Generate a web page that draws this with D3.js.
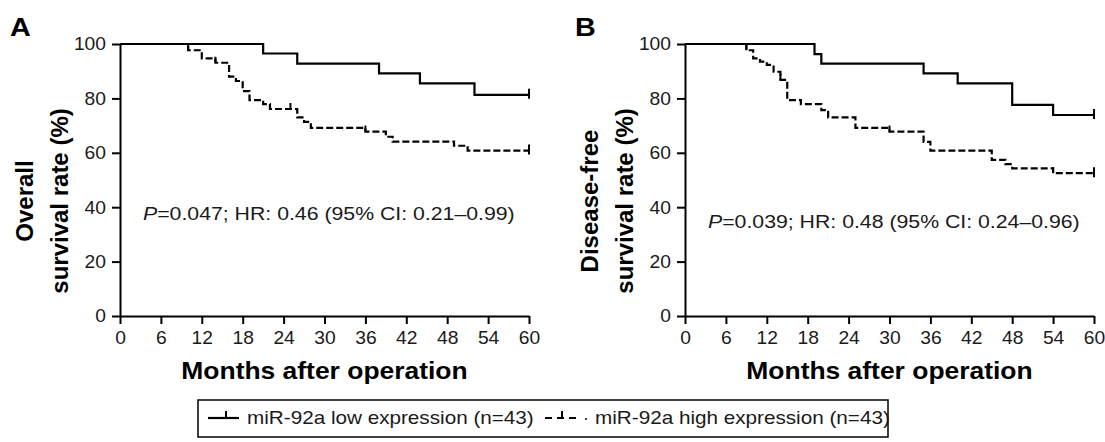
<!DOCTYPE html>
<html>
<head>
<meta charset="utf-8">
<script src="https://cdn.jsdelivr.net/npm/d3@7"></script>
<style>
  body { margin: 0; background: #fff; }
  svg { font-family: "Liberation Sans", Arial, sans-serif; }
</style>
</head>
<body>
<svg width="1105" height="442"></svg>
<script>
// tick values
const xTicks = [0, 6, 12, 18, 24, 30, 36, 42, 48, 54, 60];
const yTicks = [0, 20, 40, 60, 80, 100];

// A: overall survival
const osLowMonths = [0, 21, 26, 38, 44, 52, 60];
const osLowRate = [100, 96.5, 92.8, 89.2, 85.5, 81.3, 81.3];
const osLowCensor = [60];
const osHighMonths = [0, 10, 12, 14, 16, 17, 18, 19, 21, 22, 26, 27, 28, 36, 39, 40, 49, 51, 60];
const osHighRate = [100, 97.7, 94.7, 93.1, 88.0, 86.4, 82.7, 79.4, 77.9, 76.1, 73.0, 71.4, 69.2, 67.8, 65.9, 64.1, 62.6, 60.8, 60.8];
const osHighCensor = [10, 14, 25, 36, 60];

// B: disease-free survival
const dfsLowMonths = [0, 19, 20, 35, 40, 48, 54, 60];
const dfsLowRate = [100, 96.3, 92.8, 89.2, 85.5, 77.6, 73.9, 73.9];
const dfsLowCensor = [60];
const dfsHighMonths = [0, 9, 10, 11, 12, 13, 14, 15, 17, 20, 21, 25, 30, 35, 36, 45, 47, 48, 54, 60];
const dfsHighRate = [100, 97.7, 94.7, 93.5, 92.3, 89.8, 86.8, 79.4, 77.9, 75.7, 73.0, 69.2, 67.8, 64.0, 60.8, 57.4, 55.8, 54.3, 52.5, 52.5];
const dfsHighCensor = [9, 14, 30, 54, 60];

const legendLabels = ["miR-92a low expression (n=43)", "miR-92a high expression (n=43)"];

const svg = d3.select("svg");
const SX = 1.15; // text in the figure is a bit wider than plain Arial

function stretch(sel, sx) {
  sel.each(function() {
    const t = d3.select(this);
    const x = +t.attr("x") || 0;
    const y = +t.attr("y") || 0;
    t.attr("x", 0).attr("y", 0)
      .attr("transform", `translate(${x},${y}) scale(${sx},1)`);
  });
}

function panel(opt) {
  const x = d3.scaleLinear().domain([0, 60]).range([opt.left, opt.left + 409]);
  const y = d3.scaleLinear().domain([0, 100]).range([316, 44]);
  const g = svg.append("g");

  const xAxis = g.append("g")
    .attr("transform", "translate(0,316)")
    .call(d3.axisBottom(x).tickValues(xTicks).tickSize(8).tickPadding(8).tickSizeOuter(0));
  const yAxis = g.append("g")
    .attr("transform", `translate(${opt.left},0)`)
    .call(d3.axisLeft(y).tickValues(yTicks).tickSize(8).tickPadding(6).tickSizeOuter(0));
  [xAxis, yAxis].forEach(a => {
    a.select(".domain").attr("stroke", "#000").attr("stroke-width", 2);
    a.selectAll(".tick line").attr("stroke", "#000").attr("stroke-width", 2);
    a.selectAll(".tick text").attr("fill", "#1a1a1a").attr("font-size", 17.5);
  });
  xAxis.selectAll(".tick text").attr("dy", null).attr("y", 28).call(stretch, 1.1);
  yAxis.selectAll(".tick text").attr("dy", "0.34em").call(stretch, 1.1);

  const line = d3.line()
    .x(d => x(d[0]))
    .y(d => y(d[1]))
    .curve(d3.curveStepAfter);

  opt.curves.forEach(c => {
    const pts = c.months.map((m, i) => [m, c.rate[i]]);
    g.append("path")
      .attr("d", line(pts))
      .attr("fill", "none")
      .attr("stroke", "#000")
      .attr("stroke-width", 2.2)
      .attr("stroke-dasharray", c.dash);
    // censor marks
    c.censor.forEach(t => {
      const idx = d3.bisectRight(c.months, t) - 1;
      const v = c.rate[idx];
      g.append("line")
        .attr("x1", x(t)).attr("x2", x(t))
        .attr("y1", y(v) - 6).attr("y2", y(v) + (t === 60 ? 4 : 0))
        .attr("stroke", "#000").attr("stroke-width", 2);
    });
  });

  g.append("text")
    .attr("x", opt.left - 110).attr("y", 36)
    .attr("font-size", 25).attr("font-weight", "bold")
    .text(opt.letter).call(stretch, SX);

  g.append("text")
    .attr("x", x(30)).attr("y", 379)
    .attr("text-anchor", "middle")
    .attr("font-size", 23).attr("font-weight", "bold")
    .text("Months after operation").call(stretch, SX);

  const yt = g.append("text")
    .attr("transform", `translate(${opt.left - 87},201) rotate(-90)`)
    .attr("text-anchor", "middle")
    .attr("font-size", 24).attr("font-weight", "bold");
  yt.append("tspan").attr("x", 0).attr("y", 0).text(opt.ytitle[0]);
  yt.append("tspan").attr("x", 0).attr("y", 35).text(opt.ytitle[1]);

  const p = g.append("text")
    .attr("x", opt.pPos[0]).attr("y", opt.pPos[1])
    .attr("font-size", 18.5).attr("fill", "#1a1a1a");
  p.append("tspan").attr("font-style", "italic").text("P");
  p.append("tspan").text(opt.ptext);
  p.call(stretch, SX);
}

panel({
  left: 120, letter: "A",
  ytitle: ["Overall", "survival rate (%)"],
  pPos: [143, 220], ptext: "=0.047; HR: 0.46 (95% CI: 0.21\u20130.99)",
  curves: [
    { months: osLowMonths, rate: osLowRate, censor: osLowCensor, dash: null },
    { months: osHighMonths, rate: osHighRate, censor: osHighCensor, dash: "7,3" }
  ]
});

panel({
  left: 685, letter: "B",
  ytitle: ["Disease-free", "survival rate (%)"],
  pPos: [708, 228], ptext: "=0.039; HR: 0.48 (95% CI: 0.24\u20130.96)",
  curves: [
    { months: dfsLowMonths, rate: dfsLowRate, censor: dfsLowCensor, dash: null },
    { months: dfsHighMonths, rate: dfsHighRate, censor: dfsHighCensor, dash: "7,3" }
  ]
});

// legend
const lg = svg.append("g");
lg.append("rect")
  .attr("x", 198).attr("y", 400).attr("width", 690).attr("height", 37)
  .attr("fill", "none").attr("stroke", "#000").attr("stroke-width", 1.5);
lg.append("line").attr("x1", 208).attr("x2", 239).attr("y1", 418).attr("y2", 418)
  .attr("stroke", "#000").attr("stroke-width", 2.2);
lg.append("line").attr("x1", 226).attr("x2", 226).attr("y1", 411).attr("y2", 418)
  .attr("stroke", "#000").attr("stroke-width", 2);
lg.append("line").attr("x1", 545).attr("x2", 578).attr("y1", 418).attr("y2", 418)
  .attr("stroke", "#000").attr("stroke-width", 2.2).attr("stroke-dasharray", "7,5");
lg.append("line").attr("x1", 562).attr("x2", 562).attr("y1", 411).attr("y2", 418)
  .attr("stroke", "#000").attr("stroke-width", 2);
lg.append("circle").attr("cx", 586).attr("cy", 419).attr("r", 1).attr("fill", "#000");
lg.selectAll("text.lab")
  .data(legendLabels)
  .join("text")
  .attr("class", "lab")
  .attr("x", (d, i) => i === 0 ? 247 : 595)
  .attr("y", 424)
  .attr("font-size", 18).attr("fill", "#1a1a1a")
  .text(d => d)
  .call(stretch, SX);
</script>
</body>
</html>
